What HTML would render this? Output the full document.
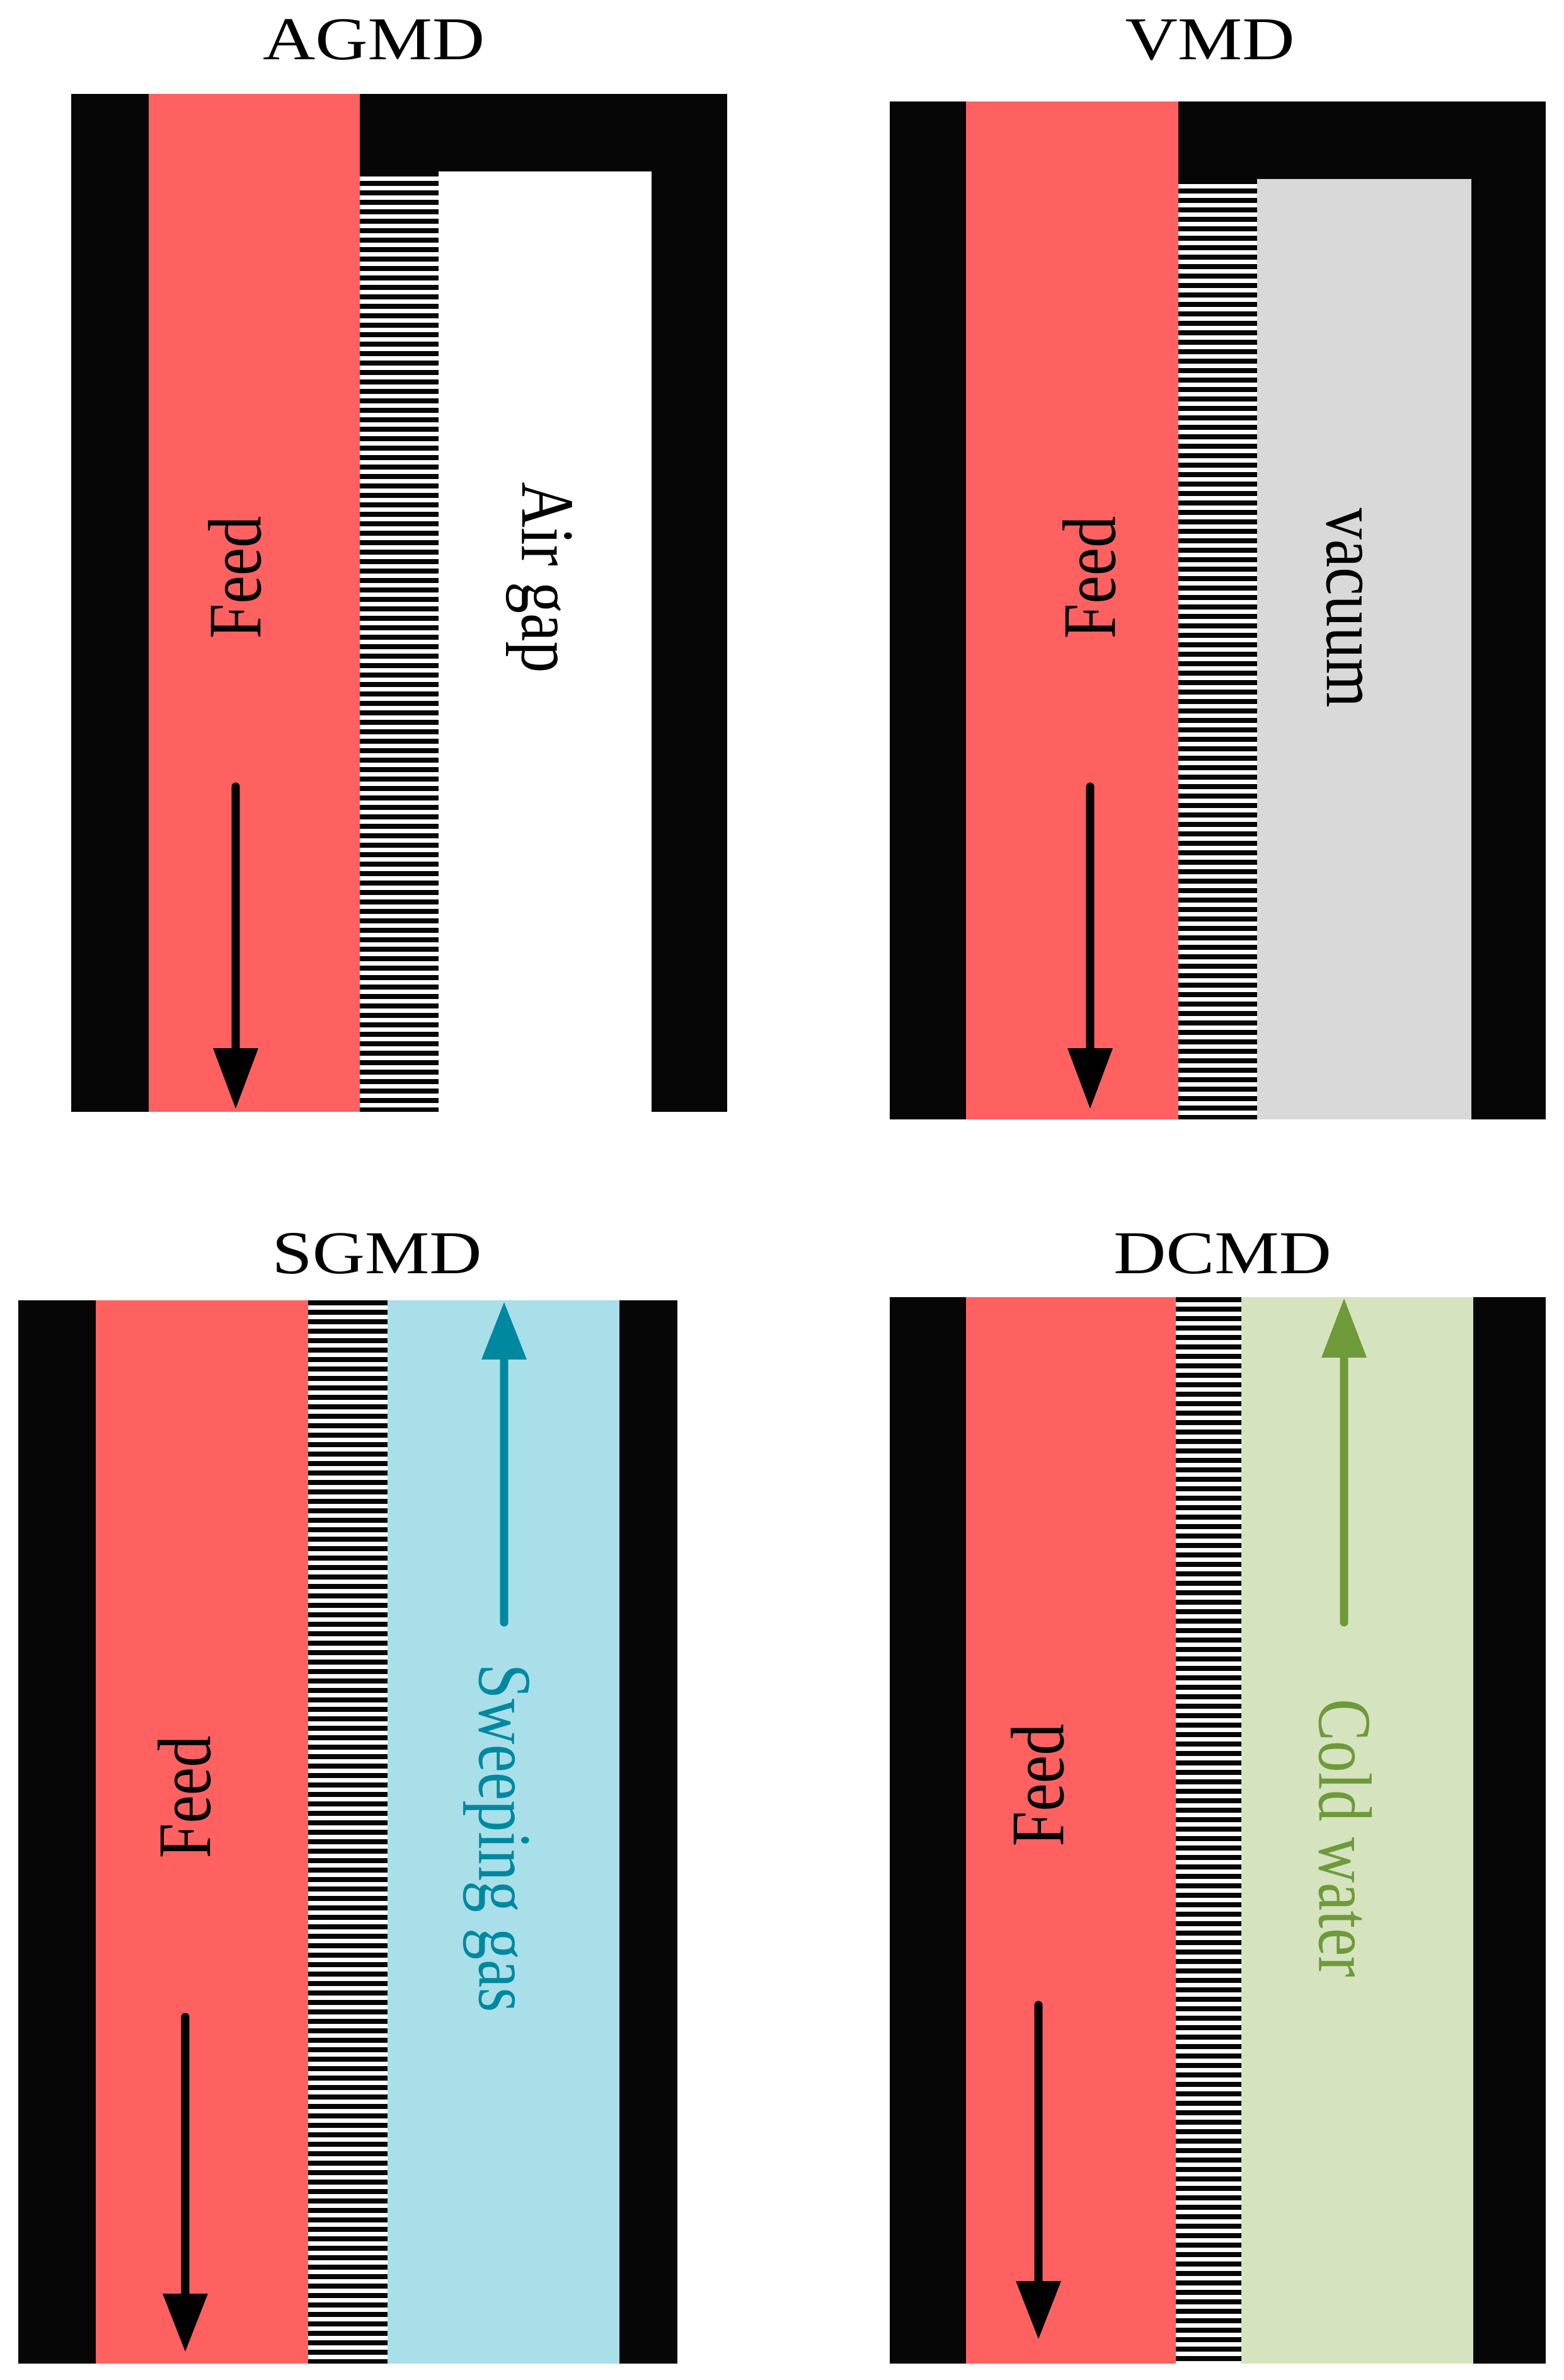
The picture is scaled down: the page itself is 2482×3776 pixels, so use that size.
<!DOCTYPE html>
<html><head><meta charset="utf-8"><style>
html,body{margin:0;padding:0;background:#fff;}
body{width:2482px;height:3776px;position:relative;overflow:hidden;font-family:"Liberation Serif","DejaVu Serif",serif;}
.r{position:absolute;}
.k{background:#060606;}
.red{background:#ff6161;}
.h{background:repeating-linear-gradient(to bottom,#060606 0 8px,#fff 8px 15px);}
.t{position:absolute;font-size:100px;line-height:1;white-space:nowrap;transform:translate(-50%,-50%);}
.title{position:absolute;font-size:96px;line-height:1;white-space:nowrap;transform:translateX(-50%) scaleX(1.2);color:#000;}
svg{position:absolute;left:0;top:0;}
</style></head><body>
<!-- AGMD -->
<div class="title" style="left:593px;top:14px;">AGMD</div>
<div class="r k" style="left:113px;top:149px;width:123px;height:1615px;"></div>
<div class="r red" style="left:236px;top:149px;width:335px;height:1615px;"></div>
<div class="r k" style="left:571px;top:149px;width:583px;height:123px;"></div>
<div class="r h" style="left:571px;top:272px;width:125px;height:1492px;"></div>
<div class="r k" style="left:1034px;top:272px;width:120px;height:1492px;"></div>
<div class="t" style="left:374px;top:916px;transform:translate(-50%,-50%) rotate(-90deg) scaleY(1.2);">Feed</div>
<div class="t" style="left:868px;top:916px;transform:translate(-50%,-50%) rotate(90deg) scaleY(1.2);">Air gap</div>

<!-- VMD -->
<div class="title" style="left:1920px;top:14px;">VMD</div>
<div class="r k" style="left:1412px;top:161px;width:121px;height:1615px;"></div>
<div class="r red" style="left:1533px;top:161px;width:337px;height:1615px;"></div>
<div class="r k" style="left:1870px;top:161px;width:583px;height:123px;"></div>
<div class="r h" style="left:1870px;top:284px;width:125px;height:1492px;"></div>
<div class="r" style="left:1995px;top:284px;width:340px;height:1492px;background:#d9d9d9;"></div>
<div class="r k" style="left:2335px;top:284px;width:118px;height:1492px;"></div>
<div class="t" style="left:1730px;top:916px;transform:translate(-50%,-50%) rotate(-90deg) scaleY(1.2);">Feed</div>
<div class="t" style="left:2145px;top:964px;transform:translate(-50%,-50%) rotate(90deg) scaleY(1.2);">vacuum</div>

<!-- SGMD -->
<div class="title" style="left:598px;top:1940px;">SGMD</div>
<div class="r k" style="left:29px;top:2063px;width:123px;height:1687px;"></div>
<div class="r red" style="left:152px;top:2063px;width:337px;height:1687px;"></div>
<div class="r h" style="left:489px;top:2063px;width:126px;height:1687px;"></div>
<div class="r" style="left:615px;top:2063px;width:368px;height:1687px;background:#a8dfe8;"></div>
<div class="r k" style="left:983px;top:2063px;width:92px;height:1687px;"></div>
<div class="t" style="left:294px;top:2851px;transform:translate(-50%,-50%) rotate(-90deg) scaleY(1.2);">Feed</div>
<div class="t" style="left:800px;top:2916px;color:#0088a0;transform:translate(-50%,-50%) rotate(90deg) scaleY(1.2);">Sweeping gas</div>

<!-- DCMD -->
<div class="title" style="left:1940px;top:1940px;">DCMD</div>
<div class="r k" style="left:1412px;top:2058px;width:121px;height:1692px;"></div>
<div class="r red" style="left:1533px;top:2058px;width:333px;height:1692px;"></div>
<div class="r h" style="left:1866px;top:2058px;width:104px;height:1692px;"></div>
<div class="r" style="left:1970px;top:2058px;width:368px;height:1692px;background:#d5e3bf;"></div>
<div class="r k" style="left:2338px;top:2058px;width:115px;height:1692px;"></div>
<div class="t" style="left:1648px;top:2832px;transform:translate(-50%,-50%) rotate(-90deg) scaleY(1.2);">Feed</div>
<div class="t" style="left:2133px;top:2916px;color:#6e9a3a;transform:translate(-50%,-50%) rotate(90deg) scaleY(1.2);">Cold water</div>

<svg width="2482" height="3776" viewBox="0 0 2482 3776">
<g stroke-width="13" stroke-linecap="round">
<line x1="374" y1="1248" x2="374" y2="1670" stroke="#000"/>
<polygon points="338,1663 410,1663 374,1759" fill="#000"/>
<line x1="1730" y1="1248" x2="1730" y2="1670" stroke="#000"/>
<polygon points="1694,1663 1766,1663 1730,1759" fill="#000"/>
<line x1="294" y1="3200" x2="294" y2="3645" stroke="#000"/>
<polygon points="258,3639 330,3639 294,3731" fill="#000"/>
<line x1="1648" y1="3181" x2="1648" y2="3625" stroke="#000"/>
<polygon points="1612,3619 1684,3619 1648,3711" fill="#000"/>
<line x1="800" y1="2574" x2="800" y2="2150" stroke="#0088a0"/>
<polygon points="764,2157 836,2157 800,2066" fill="#0088a0"/>
<line x1="2133" y1="2574" x2="2133" y2="2150" stroke="#6e9a3a"/>
<polygon points="2097,2154 2169,2154 2133,2060" fill="#6e9a3a"/>
</g>
</svg>
</body></html>
